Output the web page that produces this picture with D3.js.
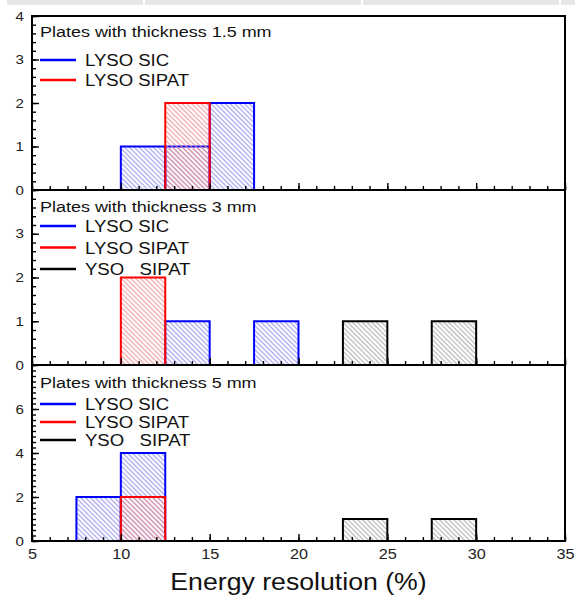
<!DOCTYPE html>
<html>
<head>
<meta charset="utf-8">
<script src="https://cdn.jsdelivr.net/npm/d3@7"></script>
<style>
  body { margin: 0; background: #fff; }
  svg { display: block; font-family: "Liberation Sans", Arial, sans-serif; }
</style>
</head>
<body>
<script>
// Histogram data: left edge of each 2.5 % bin and the number of plates in it
const binWidth = 2.5
const xTicks = [5, 10, 15, 20, 25, 30, 35]

// 1.5 mm plates
const sic15Bins = [10, 12.5, 15]
const sic15Counts = [1, 1, 2]
const sipat15Bins = [12.5]
const sipat15Counts = [2]

// 3 mm plates
const sic3Bins = [12.5, 17.5]
const sic3Counts = [1, 1]
const sipat3Bins = [10, 22.5, 27.5]
const sipat3Counts = [2, 0, 0]
const yso3Bins = [22.5, 27.5]
const yso3Counts = [1, 1]

// 5 mm plates
const sic5Bins = [7.5, 10]
const sic5Counts = [2, 4]
const sipat5Bins = [10, 22.5, 27.5]
const sipat5Counts = [2, 0, 0]
const yso5Bins = [22.5, 27.5]
const yso5Counts = [1, 1]

const seriesNames = ['LYSO SIC', 'LYSO SIPAT', 'YSO   SIPAT']
const panelTitles = ['Plates with thickness 1.5 mm', 'Plates with thickness 3 mm', 'Plates with thickness 5 mm']
const yDomainMax = [4, 4, 8]
const yTickLabels = [[0, 1, 2, 3, 4], [0, 1, 2, 3], [0, 2, 4, 6]]
const yMinorStep = [0.2, 0.2, 0.25]
const xTitle = 'Energy resolution (%)'

// Styles
const lineColors = ['#0000ff', '#ff0000', '#000000']
const hatchColors = ['#9090f0', '#f09090', '#a8a8a8']
const stretch = 1.16

const panels = [
  { series: [[sic15Bins, sic15Counts, 0], [sipat15Bins, sipat15Counts, 1]],
    top: 16, bottom: 190, titleY: 37, legendY: [60, 80] },
  { series: [[sic3Bins, sic3Counts, 0], [sipat3Bins, sipat3Counts, 1], [yso3Bins, yso3Counts, 2]],
    top: 190, bottom: 365, titleY: 212, legendY: [226, 247.5, 269] },
  { series: [[sic5Bins, sic5Counts, 0], [sipat5Bins, sipat5Counts, 1], [yso5Bins, yso5Counts, 2]],
    top: 365, bottom: 541, titleY: 388, legendY: [404, 422, 440] }
]

const svg = d3.select('body').append('svg')
  .attr('width', 575)
  .attr('height', 599)

// Grey strip along the top edge of the picture
svg.append('rect').attr('x', 7).attr('y', 0).attr('width', 568).attr('height', 5).attr('fill', '#e6e6e6')
;[143, 361, 559].forEach(sx => {
  svg.append('rect').attr('x', sx).attr('y', 0).attr('width', 2).attr('height', 5).attr('fill', '#fff')
})

// Hatch patterns
const defs = svg.append('defs')
hatchColors.forEach((c, i) => {
  const p = defs.append('pattern')
    .attr('id', `hatch${i}`)
    .attr('patternUnits', 'userSpaceOnUse')
    .attr('width', 3.4)
    .attr('height', 10)
    .attr('patternTransform', 'rotate(-45)')
  p.append('line')
    .attr('x1', 1).attr('y1', 0).attr('x2', 1).attr('y2', 10)
    .attr('stroke', c).attr('stroke-width', 1)
})

const x = d3.scaleLinear().domain([5, 35]).range([32, 565])

function addText(g, px, py, str, size, anchor = 'start') {
  return g.append('text')
    .attr('transform', `translate(${px},${py}) scale(${stretch},1)`)
    .attr('text-anchor', anchor)
    .style('font-size', size + 'px')
    .style('white-space', 'pre')
    .attr('fill', '#111')
    .text(str)
}

panels.forEach((panel, pi) => {
  const y = d3.scaleLinear().domain([0, yDomainMax[pi]]).range([panel.bottom, panel.top])
  const g = svg.append('g')
  const isLast = pi === panels.length - 1

  // Bars, drawn series by series so red sits over blue
  panel.series.forEach(([bins, counts, si]) => {
    const data = bins.map((b, i) => ({ x0: b, x1: b + binWidth, value: counts[i] }))
    g.selectAll(null)
      .data(data.filter(d => d.value > 0))
      .join('rect')
      .attr('x', d => x(d.x0))
      .attr('y', d => y(d.value))
      .attr('width', d => x(d.x1) - x(d.x0))
      .attr('height', d => y(0) - y(d.value))
      .attr('fill', `url(#hatch${si})`)
    g.selectAll(null)
      .data(data)
      .join('path')
      .attr('d', d => `M${x(d.x0)},${y(0)}V${y(d.value)}H${x(d.x1)}V${y(0)}Z`)
      .attr('fill', 'none')
      .attr('stroke', lineColors[si])
      .attr('stroke-width', 2)
  })

  // Axes, ticks pointing into the plot
  const xMajor = d3.axisBottom(x).tickValues(xTicks).tickSize(-7).tickPadding(8).tickFormat(d3.format('d'))
  if (!isLast) xMajor.tickFormat('')
  const xMinor = d3.axisBottom(x).tickValues(d3.range(5, 35.01, 1)).tickSize(-4).tickFormat('')
  const yMajor = d3.axisLeft(y).tickValues(yTickLabels[pi]).tickSize(-7).tickPadding(7).tickFormat(d3.format('d'))
  const yMinor = d3.axisLeft(y).tickValues(d3.range(0, yDomainMax[pi] + 0.001, yMinorStep[pi])).tickSize(-4).tickFormat('')

  const axes = [
    [xMinor, `translate(0,${panel.bottom})`, 14],
    [xMajor, `translate(0,${panel.bottom})`, 14],
    [yMinor, `translate(${x(5)},0)`, 13],
    [yMajor, `translate(${x(5)},0)`, 13]
  ]
  axes.forEach(([axis, tr, size]) => {
    const a = g.append('g').attr('transform', tr).call(axis)
    a.select('.domain').remove()
    a.selectAll('line').attr('stroke', '#000').attr('stroke-width', 1.4)
    a.selectAll('text')
      .style('font-size', size + 'px')
      .style('font-family', '"Liberation Sans", Arial, sans-serif')
      .attr('fill', '#222')
      .attr('transform', `scale(${stretch},1)`)
  })

  // Panel frame
  g.append('rect')
    .attr('x', x(5)).attr('y', panel.top)
    .attr('width', x(35) - x(5)).attr('height', panel.bottom - panel.top)
    .attr('fill', 'none').attr('stroke', '#000').attr('stroke-width', 2)

  // Legend
  addText(g, 40, panel.titleY, panelTitles[pi], 15.5)
  panel.series.filter(s => s[2] < panel.legendY.length).forEach(([, , si]) => {
    const ly = panel.legendY[si]
    g.append('line')
      .attr('x1', 40).attr('x2', 76).attr('y1', ly).attr('y2', ly)
      .attr('stroke', lineColors[si]).attr('stroke-width', 2.5)
    addText(g, 85, ly + 6, seriesNames[si], 16)
  })
})

// Axis title
addText(svg, x(20), 590, xTitle, 23, 'middle')
</script>
</body>
</html>
